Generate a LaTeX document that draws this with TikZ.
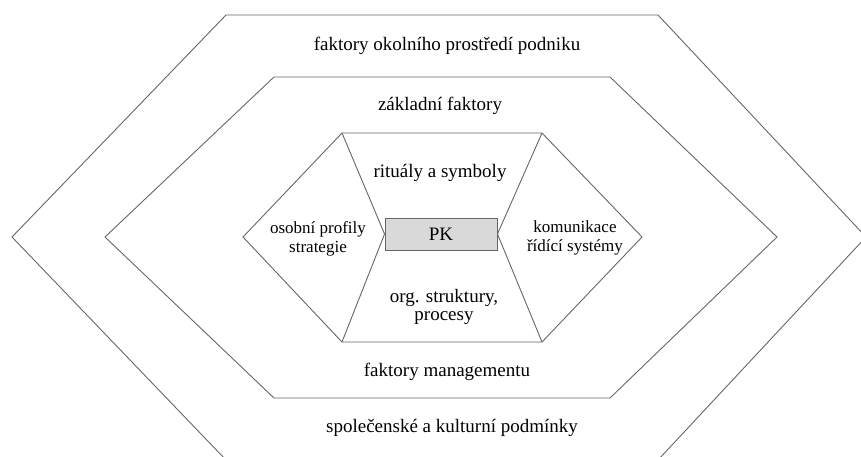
\documentclass[tikz,border=0pt]{standalone}
\usepackage{fontspec}
\setmainfont{Liberation Serif}
\definecolor{linegray}{gray}{0.4}
\definecolor{boxgray}{gray}{0.85}

\begin{document}
\begin{tikzpicture}[x=1pt,y=-1pt,
    ring/.style ={draw=linegray, line width=0.9pt},
    bigtext/.style ={font=\fontsize{19}{17.5}\selectfont, align=center, anchor=base},
    smalltext/.style ={font=\fontsize{17}{19}\selectfont, align=center, anchor=base},
    core/.style ={draw=linegray, fill=boxgray, line width=0.9pt, minimum width=112pt, minimum height=32pt, inner sep=0pt, font=\fontsize{19}{22}\selectfont}]
   \useasboundingbox (0,0) rectangle (861,456);

   % outer rings
   \draw[ring] (226,15) -- (658,15) -- (866,237) -- (658,460) -- (226,460) -- (12,237) -- cycle;
   \draw[ring] (274,77) -- (610,77) -- (777,237) -- (610,398) -- (274,398) -- (105,237) -- cycle;

   % inner hexagon
   \coordinate (TL) at (342,133);
   \coordinate (TR) at (542,133);
   \coordinate (R)  at (642,237);
   \coordinate (BR) at (542,342);
   \coordinate (BL) at (342,342);
   \coordinate (L)  at (243,237);
   \draw[ring] (TL) -- (TR) -- (R) -- (BR) -- (BL) -- (L) -- cycle;

   \node[core] (PK) at (441,234) {PK};

   \draw[ring] (TL) to (PK.west);
   \draw[ring] (BL) to (PK.west);
   \draw[ring] (TR) to (PK.east);
   \draw[ring] (BR) to (PK.east);

   \node[bigtext] (okoli) at (447,50) {faktory okolního prostředí podniku};
   \node[bigtext] (zaklad) at (440,110) {základní faktory};
   \node[bigtext] (ritualy) at (440,177) {rituály a symboly};
   \node[smalltext] (osobni) at (318,252) {osobní profily\\strategie};
   \node[smalltext] (komunikace) at (575,251) {komunikace\\řídící systémy};
   \node[bigtext] (struktury) at (444,320) {org. struktury,\\procesy};
   \node[bigtext] (management) at (447,376) {faktory managementu};
   \node[bigtext] (spolecnost) at (452,432) {společenské a kulturní podmínky};
 \end{tikzpicture}
\end{document}
